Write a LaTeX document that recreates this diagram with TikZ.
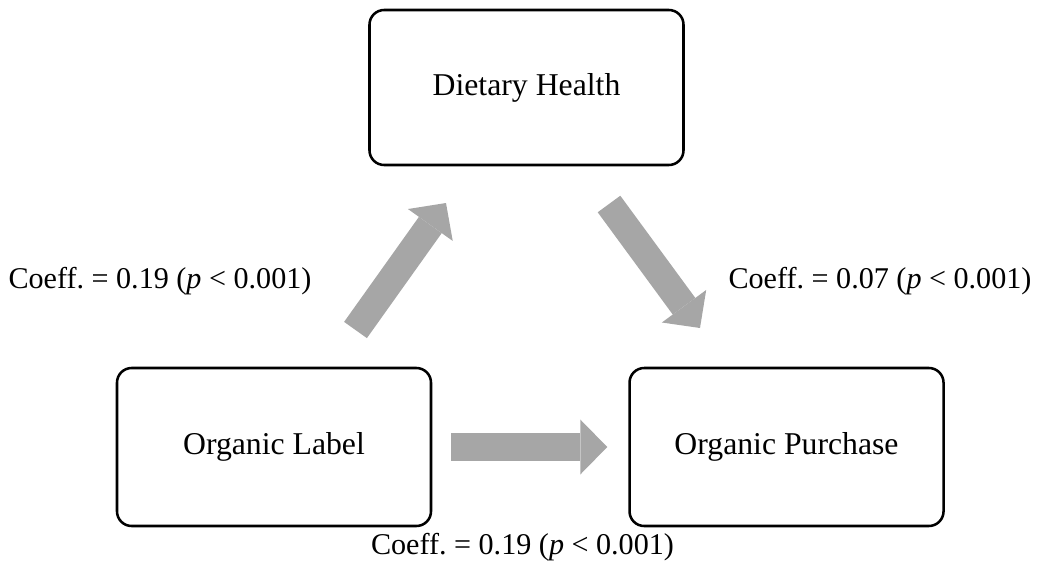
\documentclass[tikz,border=0pt]{standalone}
\usepackage{fontspec}
\setmainfont{Liberation Serif}
\usepackage{xcolor}
\usepackage{tikz}
\usetikzlibrary{positioning,arrows.meta}
\definecolor{arrowgray}{HTML}{A6A6A6}
\definecolor{boxline}{HTML}{000000}

\begin{document}
\begin{tikzpicture}[
  x=0.75pt, y=-0.75pt,
  box/.style={
    draw=boxline, line width=1.9pt, rounded corners=11pt, fill=white,
    font=\fontsize{23.8}{28}\selectfont, inner sep=0pt, align=center,
    minimum width=235.5pt
  },
  coeff/.style={font=\fontsize{22.6}{27}\selectfont, anchor=base, inner sep=0pt},
  blockarr/.style={
    draw=arrowgray, line width=21pt,
    -{Triangle[width=41.25pt, length=20.25pt, line width=0pt]}
  }
]
  \useasboundingbox (0,0) rectangle (1039,571);
  \node[box, minimum height=116.25pt] (health) at (526.5,87.5) {Dietary Health};
  \node[box, minimum height=118.5pt] (label) at (274,447) {Organic Label};
  \node[box, minimum height=118.5pt, right=147pt of label] (purchase) {Organic Purchase};

  % free ends of the slanted block arrows
  \coordinate (uptail) at (355.5,330);
  \coordinate (uptip) at (446,203);
  \coordinate (downtail) at (609,204);
  \coordinate (downtip) at (700,328);

  \draw[blockarr] (uptail) -- (uptip);
  \draw[blockarr] (downtail) -- (downtip);
  \draw[blockarr, shorten <=14.25pt, shorten >=15.75pt] (label) -- (purchase);

  \node[coeff] (upcoeff) at (160,288) {Coeff.\ = 0.19 (\textit{p} < 0.001)};
  \node[coeff] (downcoeff) at (880,288) {Coeff.\ = 0.07 (\textit{p} < 0.001)};
  \node[coeff] (directcoeff) at (522.5,554) {Coeff.\ = 0.19 (\textit{p} < 0.001)};
\end{tikzpicture}
\end{document}
